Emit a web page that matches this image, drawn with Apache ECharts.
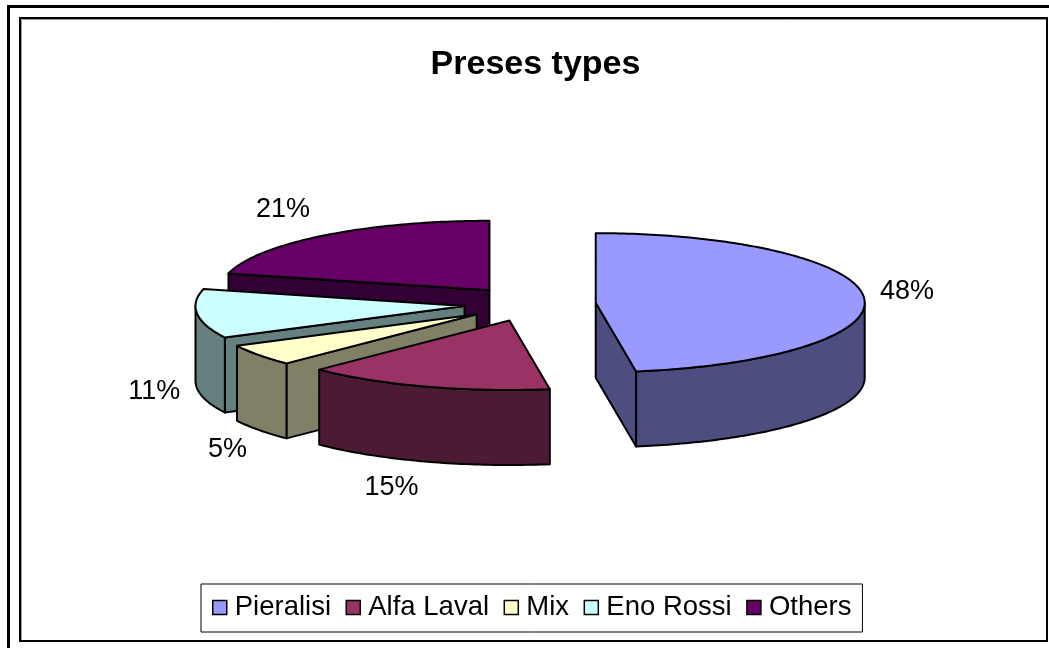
<!DOCTYPE html>
<html>
<head>
<meta charset="utf-8">
<style>html,body{margin:0;padding:0;background:#fff}#c{width:1049px;height:648px}</style>
<script src="https://cdn.jsdelivr.net/npm/echarts@6/dist/echarts.min.js"></script>
</head>
<body>
<div id="c"></div>
<script>
const titleText = 'Preses types';
const categories = ['Pieralisi', 'Alfa Laval', 'Mix', 'Eno Rossi', 'Others'];
const shares = [47.6, 14.9, 5.0, 11.4, 21.1];
const colours = ['#9999FF', '#993366', '#FFFFCC', '#CCFFFF', '#660066'];

const FONT = '"Liberation Sans", Arial, sans-serif';
const total = shares.reduce((a, b) => a + b, 0);
const pie = { cx: 530, cy: 304, rx: 269, ry: 69.5, depth: 75, explodeX: 0.245, explodeY: 0.25 };
// label clearance from the rim of each slice, in pixels
const labelGap = [[43, -6], [-34, 26.5], [-31.5, 19], [-43, 2.5], [-41, -25.5]];
const rad = d => d * Math.PI / 180;
const shade = c => { const p = echarts.color.parse(c); return 'rgb(' + [p[0] / 2, p[1] / 2, p[2] / 2].map(Math.round).join(',') + ')'; };

function arc(ax, ay, from, to, dy) {
  const pts = [];
  const n = Math.max(1, Math.ceil(Math.abs(to - from)));
  for (let i = 0; i <= n; i++) {
    const t = rad(from + (to - from) * i / n);
    pts.push([ax + pie.rx * Math.sin(t), ay - pie.ry * Math.cos(t) + dy]);
  }
  return pts;
}

function renderSlice(params, api) {
  const a = api.value(0), b = api.value(1), val = api.value(2), idx = api.value(3);
  const mid = rad((a + b) / 2);
  const ax = pie.cx + pie.explodeX * pie.rx * Math.sin(mid);
  const ay = pie.cy - pie.explodeY * pie.ry * Math.cos(mid);
  const fill = api.visual('color');
  const side = shade(fill);
  const line = { stroke: '#000', lineWidth: 2, lineJoin: 'round' };
  const kids = [];
  const poly = (points, f) => kids.push({ type: 'polygon', shape: { points }, style: Object.assign({ fill: f }, line) });
  const radial = t => {
    const r = arc(ax, ay, t, t, 0)[0];
    poly([[ax, ay], r, [r[0], r[1] + pie.depth], [ax, ay + pie.depth]], side);
  };
  if (Math.sin(rad(a)) < -1e-6) radial(a);
  if (Math.sin(rad(b)) > 1e-6) radial(b);
  const w0 = Math.max(a, 90), w1 = Math.min(b, 270);
  if (w1 > w0) {
    poly(arc(ax, ay, w0, w1, 0).concat(arc(ax, ay, w1, w0, pie.depth)), side);
  }
  poly([[ax, ay]].concat(arc(ax, ay, a, b, 0)), fill);
  const s = Math.sin(mid), c = Math.cos(mid);
  kids.push({
    type: 'text',
    style: {
      text: Math.round(val / total * 100) + '%',
      x: ax + pie.rx * s + labelGap[idx][0],
      y: ay - pie.ry * c + (c < 0 ? pie.depth : 0) + labelGap[idx][1],
      align: 'center', verticalAlign: 'middle',
      font: '27px ' + FONT, fill: '#000'
    }
  });
  return { type: 'group', children: kids };
}

let acc = 0;
const spans = shares.map((v, i) => { const s = acc; acc += v; return [s / total * 360, acc / total * 360, v, i]; });
const series = categories.map((name, i) => ({
  type: 'custom', name, coordinateSystem: 'none', renderItem: renderSlice,
  itemStyle: { color: colours[i] }, silent: true,
  data: [spans[i]]
})).reverse();

const chart = echarts.init(document.getElementById('c'), null, { renderer: 'canvas' });
chart.setOption({
  animation: false,
  backgroundColor: '#fff',
  title: {
    text: titleText, left: 530.5, top: 60, textAlign: 'center', textVerticalAlign: 'middle',
    textStyle: { fontFamily: FONT, fontWeight: 'bold', fontSize: 34, color: '#000' }
  },
  legend: {
    data: categories, left: 201, top: 584, orient: 'horizontal', icon: 'rect',
    itemWidth: 14, itemHeight: 14, itemGap: 14.5, padding: [9.5, 11, 10.5, 11],
    borderColor: '#000', borderWidth: 1, selectedMode: false,
    itemStyle: { borderColor: '#000', borderWidth: 1.5 },
    textStyle: { fontFamily: FONT, fontSize: 27.5, color: '#000', padding: [0, 0, 0, 3] }
  },
  graphic: [
    { type: 'rect', silent: true, shape: { x: 8.5, y: 6.5, width: 1300, height: 900 }, style: { fill: 'none', stroke: '#000', lineWidth: 3 } },
    { type: 'rect', silent: true, shape: { x: 21.5, y: 19.5, width: 1025, height: 622 }, style: { fill: 'none', stroke: '#999', lineWidth: 1 } },
    { type: 'rect', silent: true, shape: { x: 20, y: 18, width: 1027, height: 623 }, style: { fill: 'none', stroke: '#000', lineWidth: 2 } }
  ],
  series
});
</script>
</body>
</html>
